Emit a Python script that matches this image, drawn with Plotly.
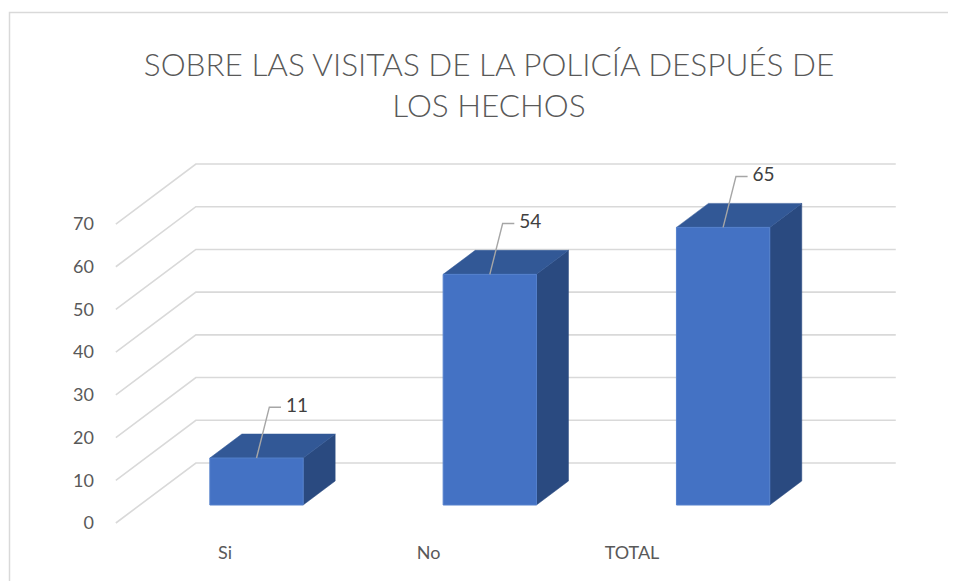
import plotly.graph_objects as go

# ---- data ----
categories = ["Si", "No", "TOTAL"]
values = [11, 54, 65]
y_ticks = [0, 10, 20, 30, 40, 50, 60, 70]
title_text = "SOBRE LAS VISITAS DE LA POLICÍA DESPUÉS DE<br>LOS HECHOS"

# ---- style / projection constants ----
FONT = "Lato"
TXT = "#595959"
GRID = "#D9D9D9"
FRONT = "#4472C4"
TOP = "#325896"
SIDE = "#2A4A80"
DX = 0.343      # depth offset in category units (full depth)
DY = 14.05      # depth offset in value units (full depth)
D0, D1 = 0.3, 0.7   # bar depth span
HW = 0.2        # half bar width (category units)

OFF = 8                     # page body margin
W, H = 956 - OFF, 581 - OFF
PL, PR, PT, PB = 113, 930, 140, 540   # plot area in page pixels
L, R, T, B = PL - OFF, W - (PR - OFF), PT - OFF, H - (PB - OFF)

fig = go.Figure()

# gridlines: front slant + back wall
gx, gy = [], []
n = len(categories)
for v in y_ticks:
    gx += [-0.5, -0.5 + DX, n - 0.5 + DX, None]
    gy += [v, v + DY, v + DY, None]
fig.add_trace(go.Scatter(x=gx, y=gy, mode="lines",
                         line=dict(color=GRID, width=1.6),
                         hoverinfo="skip", showlegend=False))

# bars
for i, v in enumerate(values):
    xl0 = i - HW + D0 * DX
    xr0 = i + HW + D0 * DX
    xl1 = i - HW + D1 * DX
    xr1 = i + HW + D1 * DX
    yb0 = D0 * DY
    yb1 = D1 * DY
    fig.add_trace(go.Scatter(
        x=[xr0, xr1, xr1, xr0, xr0],
        y=[yb0, yb1, v + yb1, v + yb0, yb0],
        fill="toself", fillcolor=SIDE, mode="lines",
        line=dict(color=SIDE, width=0.5), hoverinfo="skip", showlegend=False))
    fig.add_trace(go.Scatter(
        x=[xl0, xr0, xr1, xl1, xl0],
        y=[v + yb0, v + yb0, v + yb1, v + yb1, v + yb0],
        fill="toself", fillcolor=TOP, mode="lines",
        line=dict(color=TOP, width=0.5), hoverinfo="skip", showlegend=False))
    fig.add_trace(go.Scatter(
        x=[xl0, xr0, xr0, xl0, xl0],
        y=[yb0, yb0, v + yb0, v + yb0, yb0],
        fill="toself", fillcolor=FRONT, mode="lines",
        line=dict(color="#5480CC", width=1), hoverinfo="skip", showlegend=False))

# data labels with leader lines
LEAD_DX, LEAD_DY, HOOK, GAP = 0.055, 11.9, 0.05, 0.021
lx, ly, tx, ty = [], [], [], []
for i, v in enumerate(values):
    x0 = i + D0 * DX
    y0 = v + D0 * DY
    x1 = x0 + LEAD_DX
    y1 = y0 + LEAD_DY
    lx += [x0, x1, x1 + HOOK, None]
    ly += [y0, y1, y1, None]
    tx.append(x1 + HOOK + GAP)
    ty.append(y1)
fig.add_trace(go.Scatter(x=lx, y=ly, mode="lines",
                         line=dict(color="#A6A6A6", width=1.4),
                         hoverinfo="skip", showlegend=False))
fig.add_trace(go.Scatter(x=tx, y=ty, mode="text", text=[str(v) for v in values],
                         textposition="middle right",
                         textfont=dict(family=FONT, size=19, color="#404040"),
                         hoverinfo="skip", showlegend=False))

# invisible trace to carry the category axis (front-plane labels)
fig.add_trace(go.Scatter(x=list(range(n)), y=[0] * n, xaxis="x2", mode="markers",
                         marker=dict(opacity=0), hoverinfo="skip", showlegend=False))

pw = PR - PL
ph = PB - PT
px_per_cat = 233.3
px_per_unit = 4.271
x_lo = (PL - 232.5) / px_per_cat
y_lo = (523 - PB) / px_per_unit

lab_sp = 203.5
x2_lo = (PL - 225) / lab_sp

fig.update_layout(
    width=W, height=H,
    margin=dict(l=L, r=R, t=T, b=B),
    paper_bgcolor="white", plot_bgcolor="white",
    title=dict(text=title_text, x=(489 - OFF) / W, xanchor="center",
               y=1 - (76 - OFF) / H, yanchor="middle", yref="container",
               font=dict(family=FONT, size=31.5, color=TXT, weight=300)),
    xaxis=dict(range=[x_lo, x_lo + pw / px_per_cat], showgrid=False, zeroline=False,
               showticklabels=False, ticks="", showline=False, fixedrange=True),
    xaxis2=dict(range=[x2_lo, x2_lo + pw / lab_sp], overlaying="x", side="bottom",
                anchor="y", tickvals=list(range(n)), ticktext=categories,
                showgrid=False, zeroline=False, ticks="", showline=False,
                tickfont=dict(family=FONT, size=18, color=TXT), fixedrange=True),
    yaxis=dict(range=[y_lo, y_lo + ph / px_per_unit], tickvals=y_ticks,
               showgrid=False, zeroline=False, ticks="", showline=False,
               ticklabelstandoff=18,
               tickfont=dict(family=FONT, size=18, color=TXT), fixedrange=True),
    shapes=[dict(type="rect", xref="paper", yref="paper",
                 x0=(9.5 - PL) / pw, x1=(1010 - PL) / pw,
                 y0=-0.3, y1=(PB - 12.5) / ph,
                 line=dict(color=GRID, width=1.5), fillcolor="rgba(0,0,0,0)")],
    showlegend=False,
)

fig.write_html("out.html", config={"displayModeBar": False})
